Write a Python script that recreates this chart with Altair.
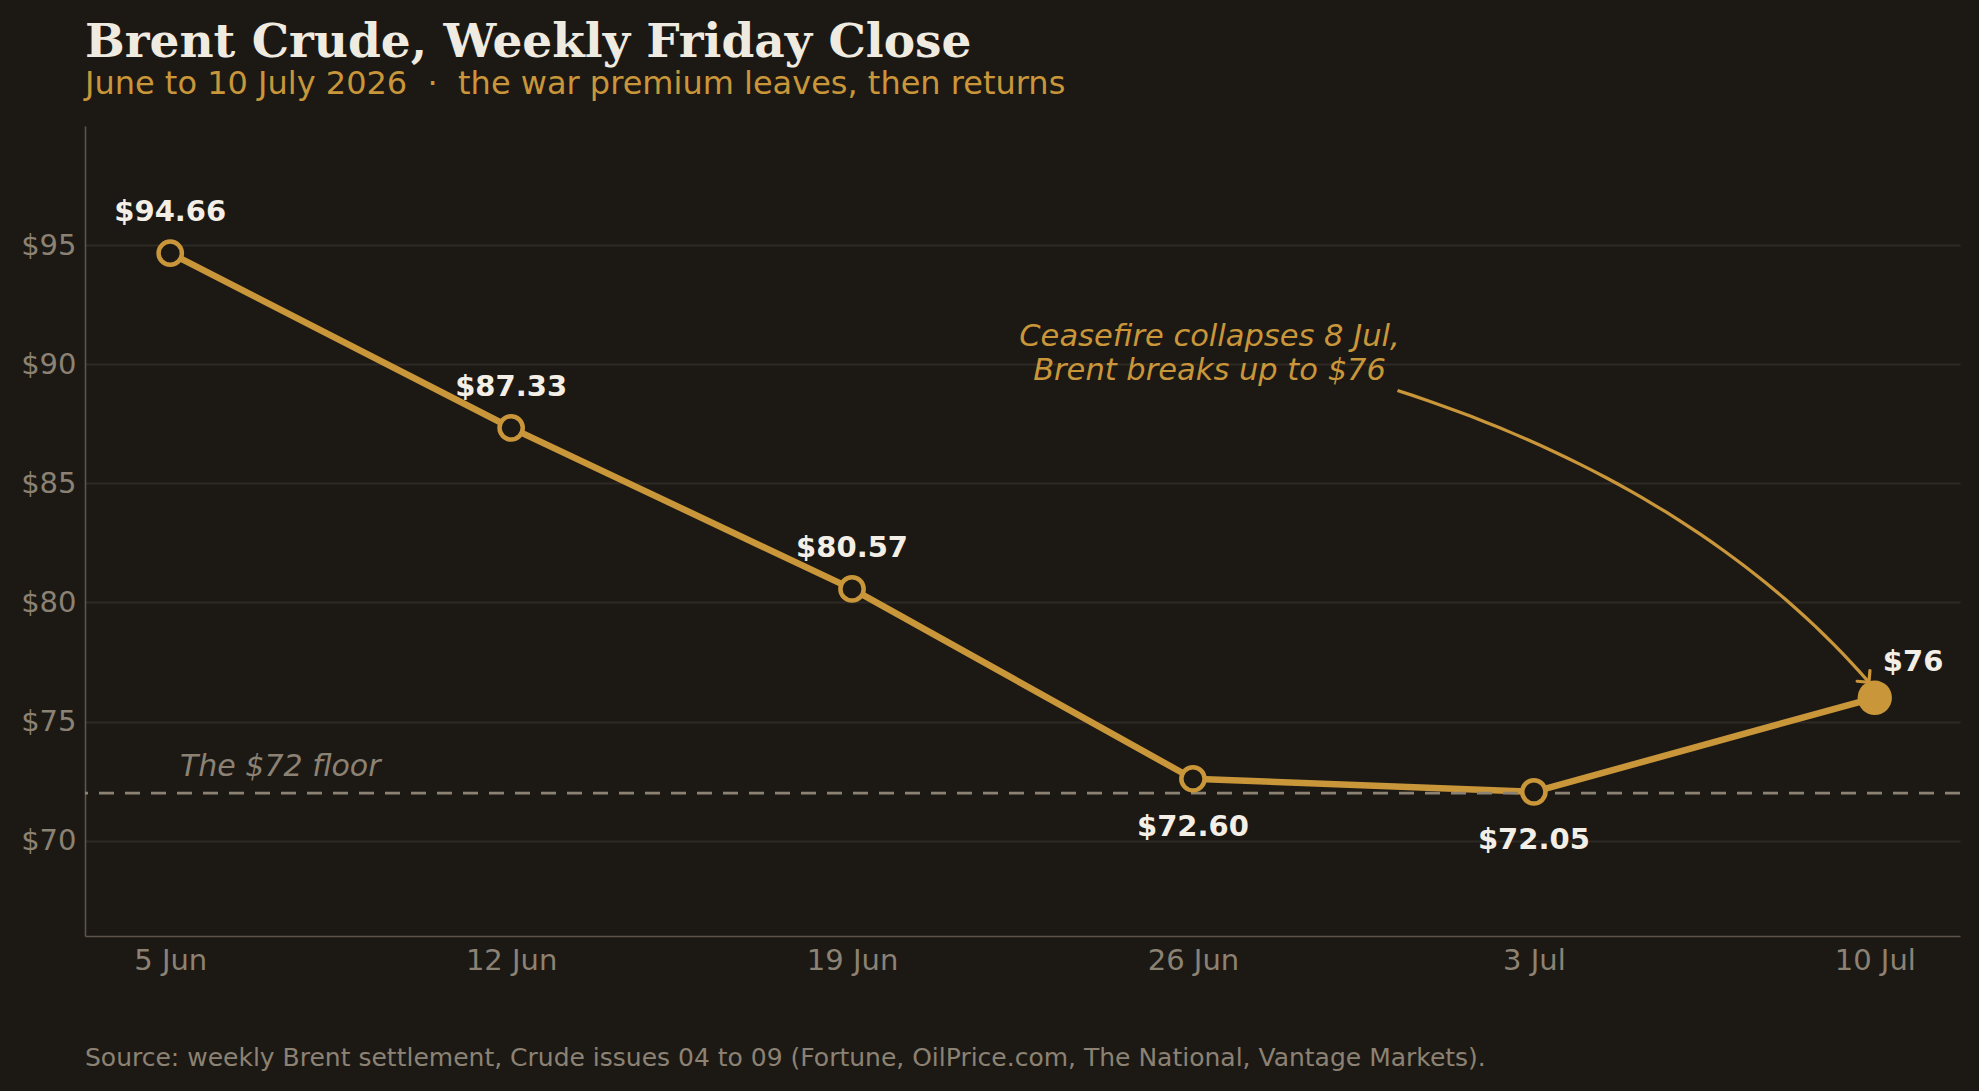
import altair as alt
import numpy as np
import pandas as pd

# Weekly Friday settlements, Brent crude (USD per barrel)
week_labels = ["5 Jun", "12 Jun", "19 Jun", "26 Jun", "3 Jul", "10 Jul"]
week_days = [0, 7, 14, 21, 28, 35]          # days after 5 Jun
closes = [94.66, 87.33, 80.57, 72.60, 72.05, 76.00]
close_labels = ["$94.66", "$87.33", "$80.57", "$72.60", "$72.05", "$76"]
price_ticks = [70, 75, 80, 85, 90, 95]

floor_level = 72
floor_note = "The $72 floor"
callout_lines = ["Ceasefire collapses 8 Jul,", "Brent breaks up to $76"]
source_note = ("Source: weekly Brent settlement, Crude issues 04 to 09 "
               "(Fortune, OilPrice.com, The National, Vantage Markets).")
NBSP = "\u00a0"
subtitle = f"June to 10 July 2026{NBSP * 2}·{NBSP * 2}the war premium leaves, then returns"

# palette
BG = "#1c1915"
GOLD = "#c9963a"
MUTED = "#8c8273"
GRID = "#2d2924"
AXIS = "#5c544a"
INK = "#f3efe6"
TITLE = "#f0ebe0"

W, H = 1875, 810

df = pd.DataFrame({"day": week_days, "week": week_labels,
                   "close": closes, "label": close_labels})

x_scale = alt.Scale(domain=[-1.75, 36.75], nice=False, zero=False)
y_scale = alt.Scale(domain=[66, 100], nice=False, zero=False)

label_expr = "{" + ",".join(f"'{d}':'{w}'" for d, w in zip(week_days, week_labels)) + "}[datum.value]"
x_enc = alt.X("day:Q", scale=x_scale, title=None,
              axis=alt.Axis(values=week_days, labelExpr=label_expr, grid=False,
                            ticks=False, labelPadding=10, labelFontSize=29,
                            labelColor=MUTED, labelFont="DejaVu Sans",
                            domainColor=AXIS, domainWidth=1.6))
y_enc = alt.Y("close:Q", scale=y_scale, title=None,
              axis=alt.Axis(values=price_ticks, labelExpr="'$' + datum.value",
                            grid=True, gridColor=GRID, gridWidth=1.8,
                            ticks=False, labelPadding=9, labelFontSize=29,
                            labelColor=MUTED, labelFont="DejaVu Sans",
                            domainColor=AXIS, domainWidth=1.6))

base = alt.Chart(df)

# dashed support level
floor_df = pd.DataFrame({"close": [floor_level], "text": [floor_note]})
floor_rule = alt.Chart(floor_df).mark_rule(
    color=MUTED, strokeWidth=2.8, strokeDash=[15, 11]
).encode(y=alt.Y("close:Q", scale=y_scale))
floor_text = alt.Chart(floor_df).mark_text(
    align="left", baseline="middle", font="DejaVu Sans", fontStyle="italic",
    fontSize=30, color=MUTED, dy=-26
).encode(x=alt.value(95), y=alt.Y("close:Q", scale=y_scale), text="text:N")

line = base.mark_line(color=GOLD, strokeWidth=6.5, strokeCap="round",
                      strokeJoin="round").encode(x=x_enc, y=y_enc)

last_day = week_days[-1]
open_pts = base.transform_filter(f"datum.day < {last_day}").mark_point(
    shape="circle", filled=True, fill=BG, stroke=GOLD, strokeWidth=4.5,
    size=540, opacity=1
).encode(x=alt.X("day:Q", scale=x_scale), y=alt.Y("close:Q", scale=y_scale))
last_pt = base.transform_filter(f"datum.day == {last_day}").mark_circle(
    color=GOLD, size=1180, opacity=1
).encode(x=alt.X("day:Q", scale=x_scale), y=alt.Y("close:Q", scale=y_scale))

lab_style = dict(font="DejaVu Sans", fontWeight="bold", fontSize=29, color=INK,
                 baseline="middle")
lab_enc = dict(x=alt.X("day:Q", scale=x_scale), y=alt.Y("close:Q", scale=y_scale),
               text="label:N")
labels_above = base.transform_filter(
    f"datum.day < {last_day} && datum.close > {floor_level + 1}"
).mark_text(align="center", dy=-41, **lab_style).encode(**lab_enc)
labels_below = base.transform_filter(
    f"datum.day < {last_day} && datum.close <= {floor_level + 1}"
).mark_text(align="center", dy=48, **lab_style).encode(**lab_enc)
label_last = base.transform_filter(f"datum.day == {last_day}").mark_text(
    align="left", dx=8, dy=-36, **lab_style).encode(**lab_enc)

# callout text and curved arrow (anchors in data units)
callout_df = pd.DataFrame({"day": [21.34], "close": [91.13],
                           "text": [callout_lines]})
callout = alt.Chart(callout_df).mark_text(
    align="center", baseline="middle", font="DejaVu Sans", fontStyle="italic",
    fontSize=30.5, color=GOLD, lineHeight=34
).encode(x=alt.X("day:Q", scale=x_scale), y=alt.Y("close:Q", scale=y_scale),
         text="text")

arrow_from = (25.2, 88.9)
arrow_bend = (31.4, 84.8)
arrow_to = (34.88, 76.65)
t = np.linspace(0, 1, 41)
curve_df = pd.DataFrame({
    "t": t,
    "day": (1 - t) ** 2 * arrow_from[0] + 2 * t * (1 - t) * arrow_bend[0] + t ** 2 * arrow_to[0],
    "close": (1 - t) ** 2 * arrow_from[1] + 2 * t * (1 - t) * arrow_bend[1] + t ** 2 * arrow_to[1],
})
arrow = alt.Chart(curve_df).mark_line(color=GOLD, strokeWidth=3.2).encode(
    x=alt.X("day:Q", scale=x_scale), y=alt.Y("close:Q", scale=y_scale),
    order="t:Q")
head_df = pd.DataFrame({"day": [arrow_to[0]], "close": [arrow_to[1]]})
arrow_head = alt.Chart(head_df).mark_point(
    shape="M-1,-1L0,0L-1,1", filled=False, stroke=GOLD, strokeWidth=3.2,
    size=280, angle=50, opacity=1, strokeCap="round", strokeJoin="miter"
).encode(x=alt.X("day:Q", scale=x_scale), y=alt.Y("close:Q", scale=y_scale))

footer = alt.Chart(pd.DataFrame({"text": [source_note]})).mark_text(
    align="left", baseline="middle", font="DejaVu Sans", fontSize=25, color=MUTED
).encode(x=alt.value(0), y=alt.value(932), text="text:N")

chart = alt.layer(
    line, floor_rule, floor_text, open_pts, last_pt,
    labels_above, labels_below, label_last, callout, arrow, arrow_head, footer
).properties(
    width=W, height=H,
    background=BG,
    padding={"left": 85, "top": 126, "right": 19, "bottom": 155},
    autosize=alt.AutoSizeParams(type="none"),
    title=alt.Title(
        text="Brent Crude, Weekly Friday Close",
        subtitle=subtitle,
        anchor="start", frame="group", offset=25,
        font="DejaVu Serif", fontSize=47, fontWeight="bold", color=TITLE,
        subtitleFont="DejaVu Sans", subtitleFontSize=32, subtitleColor=GOLD,
        subtitlePadding=2,
    ),
).configure_view(stroke=None)

chart.save("out.html", embed_options={"renderer": "svg", "actions": False})
